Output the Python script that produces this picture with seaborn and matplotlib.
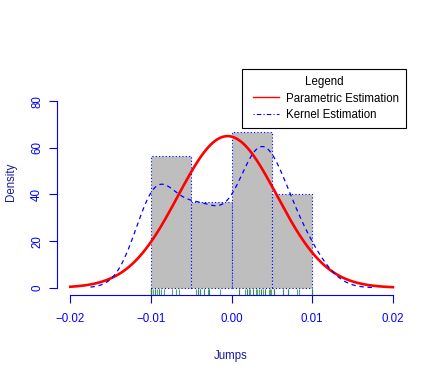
import numpy as np
import pandas as pd
import matplotlib
matplotlib.use("Agg")
import matplotlib.pyplot as plt
import seaborn as sns
from matplotlib.lines import Line2D
from matplotlib.legend_handler import HandlerLine2D

# ---- data ----
jumps_bin1 = [-0.0100, -0.0100, -0.0100, -0.0100, -0.0100, -0.0100, -0.0098, -0.0095,
              -0.0095, -0.0093, -0.0090, -0.0090, -0.0087, -0.0084, -0.0074, -0.0069, -0.0065]
jumps_bin2 = [-0.0044, -0.0042, -0.0042, -0.0039, -0.0039, -0.0034, -0.0034, -0.0029,
              -0.0028, -0.0028, -0.0014]
jumps_bin3 = [0.0009, 0.0009, 0.0017, 0.0019, 0.0019, 0.0021, 0.0023, 0.0026, 0.0027, 0.0030,
              0.0032, 0.0034, 0.0036, 0.0036, 0.0039, 0.0042, 0.0042, 0.0046, 0.0048, 0.0049]
jumps_bin4 = [0.0052, 0.0052, 0.0052, 0.0064, 0.0064, 0.0070, 0.0070, 0.0081, 0.0083,
              0.0100, 0.0100, 0.0100]
bin_edges = [-0.010, -0.005, 0.000, 0.005, 0.010]
kde_bandwidth = 0.0025
normal_mean = -0.0005     # fitted parameters of the parametric (normal) estimate
normal_sd = 0.00614
curve_range = [-0.02, 0.02]
x_ticks = [-0.02, -0.01, 0.00, 0.01, 0.02]
x_tick_labels = ["\u22120.02", "\u22120.01", "0.00", "0.01", "0.02"]
y_ticks = [0, 20, 40, 60, 80]
legend_title = "Legend"
legend_labels = ["Parametric Estimation", "Kernel Estimation"]
x_label = "Jumps"
y_label = "Density"

jumps = jumps_bin1 + jumps_bin2 + jumps_bin3 + jumps_bin4
df = pd.DataFrame({"jumps": jumps})
sd_data = float(np.std(jumps, ddof=1))
xs = np.linspace(curve_range[0], curve_range[1], 400)
normal_df = pd.DataFrame({
    "x": xs,
    "density": np.exp(-0.5 * ((xs - normal_mean) / normal_sd) ** 2) / (normal_sd * np.sqrt(2 * np.pi)),
})

plt.rcParams["font.family"] = ["Liberation Sans", "DejaVu Sans"]
FS = 8.3
W, H = 436, 382
fig = plt.figure(figsize=(W / 100, H / 100), dpi=100)
ax = fig.add_axes([57.4 / W, 1 - 295.2 / H, 348.4 / W, 201.6 / H])

# histogram
sns.histplot(data=df, x="jumps", bins=bin_edges, stat="density", ax=ax,
             color="#BEBEBE", alpha=1, edgecolor="#0000FF", linewidth=0.8,
             linestyle=(0, (1, 2)), zorder=1)
# rug
sns.rugplot(data=df, x="jumps", height=0.03, ax=ax, color="#2a8a2a",
            linewidth=0.8, alpha=0.75, zorder=2)
# parametric normal curve
sns.lineplot(data=normal_df, x="x", y="density", ax=ax, color="#FF0000",
             linewidth=1.9, zorder=3)
# kernel estimate
sns.kdeplot(data=df, x="jumps", ax=ax, bw_method=kde_bandwidth / sd_data, cut=3,
            color="#0000FF", linewidth=0.9, linestyle=(0, (3.5, 3)), zorder=4)

ax.set_xlim(-0.0216, 0.0216)
ax.set_ylim(-3.2, 83.2)
for s in ["top", "right"]:
    ax.spines[s].set_visible(False)
ax.spines["left"].set_bounds(0, 80)
ax.spines["bottom"].set_bounds(-0.02, 0.02)
for s in ["left", "bottom"]:
    ax.spines[s].set_color("#0000FF")
    ax.spines[s].set_linewidth(0.8)

ax.set_xticks(x_ticks)
ax.set_xticklabels(x_tick_labels)
ax.set_yticks(y_ticks)
ax.set_yticklabels([str(v) for v in y_ticks], rotation=90, va="center")
ax.tick_params(axis="both", colors="#0000FF", labelcolor="#0000FF",
               length=5.8, width=0.8, labelsize=FS)
ax.tick_params(axis="x", pad=7.3)
ax.tick_params(axis="y", pad=4.5)

ax.set_xlabel(x_label, fontsize=FS, color="#1a1a9a")
ax.set_ylabel(y_label, fontsize=FS, color="#1a1a9a")
ax.xaxis.set_label_coords((230.7 - 57.4) / 348.4, (295.2 - 349.8) / 201.6)
ax.yaxis.set_label_coords((16.8 - 57.4) / 348.4, (295.2 - 181.5) / 201.6)

handles = [Line2D([], [], color="#FF0000", linewidth=1.0),
           Line2D([], [], color="#0000FF", linewidth=0.8, linestyle=(0, (1, 2, 4, 2)))]
leg = ax.legend(handles, legend_labels, title=legend_title, loc="upper right",
                bbox_to_anchor=(405.8 / W, 1 - 69 / H), bbox_transform=fig.transFigure,
                fancybox=False, framealpha=1, edgecolor="black", borderaxespad=0,
                borderpad=0.6, labelspacing=0.4, handlelength=2.59, handletextpad=0.6,
                fontsize=FS, title_fontsize=FS,
                handler_map={Line2D: HandlerLine2D(xpad=0.356)})
leg.get_frame().set_linewidth(0.8)

fig.savefig("out.png", dpi=100)
